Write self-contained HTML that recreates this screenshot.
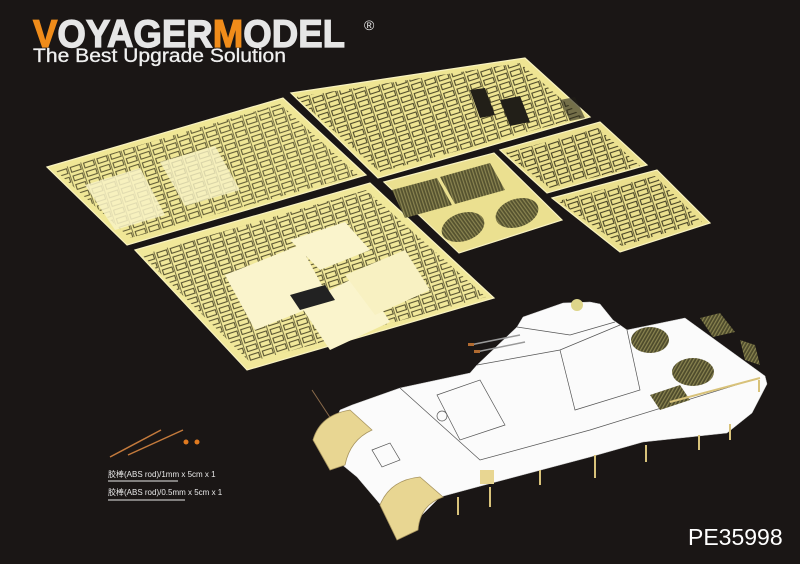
<!DOCTYPE html>
<html><head><meta charset="utf-8"><style>
html,body{margin:0;padding:0;background:#1a1615;}
svg{display:block}
</style></head><body>
<svg width="800" height="564" viewBox="0 0 800 564" xmlns="http://www.w3.org/2000/svg">
<defs>
<pattern id="det" width="14" height="9" patternUnits="userSpaceOnUse" patternTransform="rotate(-18)">
<rect x="1" y="1" width="10" height="5" fill="none" stroke="#3e3a1e" stroke-width="1.1"/>
<line x1="12.5" y1="0" x2="12.5" y2="9" stroke="#3e3a1e" stroke-width="0.8"/>
</pattern>
<pattern id="mesh" width="3" height="3" patternUnits="userSpaceOnUse" patternTransform="rotate(-18)">
<rect width="3" height="3" fill="#55522f"/>
<rect x="0" y="0" width="1.2" height="3" fill="#8a8450"/>
</pattern>
<pattern id="mesh2" width="3" height="3" patternUnits="userSpaceOnUse" patternTransform="rotate(30)">
<rect width="3" height="3" fill="#4e4b2c"/>
<rect x="0" y="0" width="1.2" height="3" fill="#8a8450"/>
</pattern>
</defs>
<rect width="800" height="564" fill="#1a1615"/>

<!-- header -->
<text x="33" y="47" font-family="Liberation Sans, sans-serif" font-weight="bold" font-size="39" fill="#e6e6e6" stroke="#e6e6e6" stroke-width="1.2" textLength="312" lengthAdjust="spacingAndGlyphs"><tspan fill="#f08c1a" stroke="#f08c1a">V</tspan>OYAGER<tspan fill="#f08c1a" stroke="#f08c1a">M</tspan>ODEL</text>
<text x="364" y="30" font-family="Liberation Sans, sans-serif" font-size="14" fill="#e6e6e6">®</text>
<text x="33" y="62" font-family="Liberation Sans, sans-serif" font-size="19" fill="#f0f0f0" stroke="#f0f0f0" stroke-width="0.3" textLength="253" lengthAdjust="spacingAndGlyphs">The Best Upgrade Solution</text>

<!-- frets -->
<g stroke="#f8f2c0" stroke-width="1.2">
<polygon points="291,93 525,58 590,117 378,178" fill="#efe593"/>
<polygon points="47,167 283,98 366,175 127,245" fill="#f0e796"/>
<polygon points="135,250 370,183 494,298 247,370" fill="#f1e89a"/>
<polygon points="384,182 494,153 562,220 459,253" fill="#ebe090"/>
<polygon points="500,150 600,122 647,165 547,193" fill="#ece190"/>
<polygon points="552,198 657,170 710,223 620,252" fill="#ebe08e"/>
</g>
<g>
<polygon points="296,97 520,63 582,117 380,172" fill="url(#det)" opacity="0.9"/>
<polygon points="55,170 280,104 358,175 130,238" fill="url(#det)" opacity="0.8"/>
<polygon points="142,255 366,190 486,297 250,362" fill="url(#det)" opacity="0.85"/>
<polygon points="505,153 598,128 640,166 550,188" fill="url(#det)" opacity="0.95"/>
<polygon points="558,201 655,176 702,222 622,246" fill="url(#det)" opacity="0.95"/>
<polygon points="85,185 140,168 165,215 115,230" fill="#f8f2c6" opacity="0.85"/>
<polygon points="160,162 215,146 240,190 185,206" fill="#f8f2c6" opacity="0.8"/>
<polygon points="225,275 300,245 330,300 255,330" fill="#faf4cc"/>
<polygon points="290,240 345,222 370,250 320,270" fill="#faf4cc"/>
<polygon points="300,305 360,275 390,322 330,350" fill="#faf4cc"/>
<polygon points="345,275 405,250 430,290 375,315" fill="#f8f1c2"/>
<polygon points="290,295 325,285 335,300 300,310" fill="#222"/>
<polygon points="392,190 437,178 452,205 405,218" fill="url(#mesh)"/>
<polygon points="440,177 490,163 505,190 455,204" fill="url(#mesh)"/>
<ellipse cx="463" cy="227" rx="22" ry="14" transform="rotate(-18 463 227)" fill="url(#mesh)"/>
<ellipse cx="517" cy="213" rx="22" ry="14" transform="rotate(-18 517 213)" fill="url(#mesh)"/>
<polygon points="470,90 485,88 495,115 480,118" fill="#221f18"/>
<polygon points="500,100 520,96 530,122 510,126" fill="#221f18"/>
<polygon points="560,100 575,97 585,118 570,121" fill="#221f18" opacity="0.6"/>
</g>

<!-- bottom-left rods & text -->
<line x1="110" y1="457" x2="161" y2="430" stroke="#c47a3c" stroke-width="1.5"/>
<line x1="128" y1="455" x2="183" y2="430" stroke="#c47a3c" stroke-width="1.5"/>
<circle cx="186" cy="442" r="2.5" fill="#e07a20"/>
<circle cx="197" cy="442" r="2.5" fill="#e07a20"/>
<text x="108" y="477" font-family="Liberation Sans, 'Noto Sans CJK SC', sans-serif" font-size="8" fill="#e8e8e8">胶棒(ABS rod)/1mm x 5cm x 1</text>
<line x1="108" y1="481" x2="178" y2="481" stroke="#e8e8e8" stroke-width="1"/>
<text x="108" y="495" font-family="Liberation Sans, 'Noto Sans CJK SC', sans-serif" font-size="8" fill="#e8e8e8">胶棒(ABS rod)/0.5mm x 5cm x 1</text>
<line x1="108" y1="500" x2="185" y2="500" stroke="#e8e8e8" stroke-width="1"/>
<line x1="312" y1="390" x2="335" y2="425" stroke="#8a6a4a" stroke-width="1"/>

<!-- tank -->
<polygon points="340,410 352,405 400,388 470,373 477,365 517,327 523,317 563,303 590,302 600,304 613,320 627,330 685,318 765,376 767,384 752,413 727,433 643,442 590,457 477,487 440,497 417,520 410,532 385,510 357,477 340,463 323,450" fill="#fbfbfb" stroke="#ccc" stroke-width="0.5"/>
<g fill="none" stroke="#555" stroke-width="0.7">
<path d="M400,388 L480,460 L590,430 L752,380"/>
<path d="M477,365 L560,350 L620,325"/>
<path d="M517,327 L570,335 L615,322"/>
<path d="M560,350 L575,410 L640,390 L627,330"/>
<path d="M437,395 L480,380 L505,425 L460,440 Z"/>
<path d="M372,450 L390,443 L400,460 L382,467 Z"/>
<circle cx="442" cy="416" r="5"/>
</g>
<ellipse cx="650" cy="340" rx="19" ry="13" fill="url(#mesh2)"/>
<ellipse cx="693" cy="372" rx="21" ry="14" fill="url(#mesh2)"/>
<polygon points="700,318 720,313 735,332 713,337" fill="url(#mesh2)"/>
<polygon points="740,340 755,345 760,365 745,360" fill="url(#mesh2)"/>
<polygon points="650,395 680,385 690,400 660,410" fill="url(#mesh2)"/>
<circle cx="577" cy="305" r="6" fill="#ddd58a"/>
<line x1="470" y1="345" x2="520" y2="335" stroke="#999" stroke-width="1.5"/>
<line x1="476" y1="352" x2="525" y2="342" stroke="#999" stroke-width="1.5"/>
<rect x="468" y="343" width="6" height="3" fill="#b06a30"/>
<rect x="474" y="350" width="6" height="3" fill="#b06a30"/>
<g fill="#e8d692" stroke="#a89560" stroke-width="0.8">
<path d="M313,440 Q320,415 350,410 L372,430 Q350,440 345,465 L330,470 Z"/>
<path d="M380,505 Q390,480 420,477 L443,497 Q420,505 418,530 L397,540 Z"/>
</g>
<g stroke="#d8c27a" stroke-width="2">
<line x1="458" y1="497" x2="458" y2="515"/><line x1="490" y1="487" x2="490" y2="507"/>
<line x1="540" y1="470" x2="540" y2="485"/><line x1="595" y1="455" x2="595" y2="478"/>
<line x1="646" y1="445" x2="646" y2="462"/><line x1="699" y1="435" x2="699" y2="450"/>
<line x1="730" y1="424" x2="730" y2="440"/><line x1="759" y1="380" x2="759" y2="392"/>
<line x1="670" y1="402" x2="760" y2="378"/>
</g>
<rect x="480" y="470" width="14" height="14" fill="#e8d692"/>

<text x="688" y="545" font-family="Liberation Sans, sans-serif" font-size="23" fill="#ffffff">PE35998</text>
</svg>
</body></html>
